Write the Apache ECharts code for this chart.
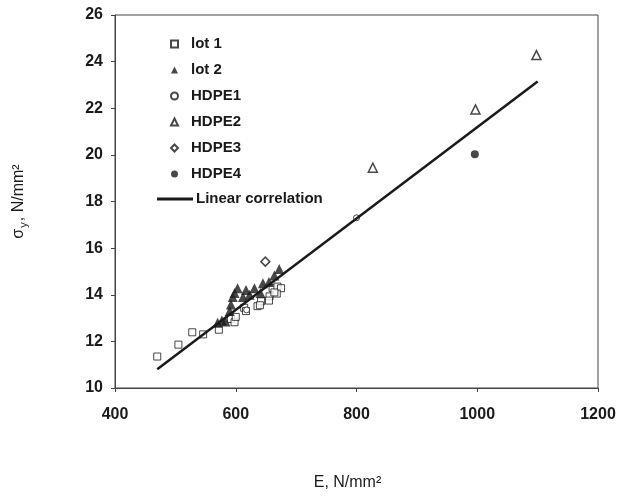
<!DOCTYPE html>
<html>
<head>
<meta charset="utf-8">
<script src="https://cdn.jsdelivr.net/npm/echarts@6/dist/echarts.min.js"></script>
<style>
  html, body { margin: 0; padding: 0; background: #fff; }
  #chart { width: 620px; height: 496px; }
</style>
</head>
<body>
<div id="chart"></div>
<script>
// Yield stress vs. elastic modulus for the two lots and four HDPE grades
const lot1E = [470, 505, 528, 546, 572, 592, 598, 600, 614, 617, 636, 642, 656, 661, 669, 675, 668, 640, 664, 655];
const lot1S = [11.35, 11.86, 12.39, 12.3, 12.5, 12.96, 12.82, 13.05, 13.44, 13.3, 13.51, 13.72, 13.93, 14.28, 14.35, 14.28, 14.05, 13.55, 14.1, 13.75];

const lot2E = [570, 577, 583, 590, 592, 595, 598, 603, 612, 617, 623, 631, 641, 645, 655, 664, 672];
const lot2S = [12.8, 12.9, 12.85, 13.3, 13.58, 13.9, 14.07, 14.28, 13.9, 14.2, 14.0, 14.28, 14.08, 14.49, 14.55, 14.83, 15.1];

const hdpe1E = [800, 618];
const hdpe1S = [17.3, 13.35];
const hdpe2E = [827, 997, 1098];
const hdpe2S = [19.45, 21.95, 24.28];
const hdpe3E = [649];
const hdpe3S = [15.42];
const hdpe4E = [996];
const hdpe4S = [20.03];

// Linear correlation line end points
const fitE = [470, 1100];
const fitS = [10.8, 23.15];

const xTicks = { min: 400, max: 1200, interval: 200 };
const yTicks = { min: 10, max: 26, interval: 2 };

const markerNames = ['lot 1', 'lot 2', 'HDPE1', 'HDPE2', 'HDPE3', 'HDPE4'];
const lineName = 'Linear correlation';

const zip = (xs, ys) => xs.map((x, i) => [x, ys[i]]);

const FONT = 'Liberation Sans, Arial, sans-serif';
const INK = '#1a1a1a';

const openStyle = { color: '#fff', borderColor: INK, borderWidth: 1 };
const solidStyle = { color: INK, borderColor: INK, borderWidth: 0 };
const legendText = { fontFamily: FONT, fontSize: 15, fontWeight: 'bold', color: INK, lineHeight: 16 };

const chart = echarts.init(document.getElementById('chart'), null, { renderer: 'canvas' });

chart.setOption({
  animation: false,
  backgroundColor: '#fff',
  grid: {
    left: 115, right: 22, top: 15, bottom: 98,
    show: true, borderColor: '#444', borderWidth: 1, backgroundColor: 'transparent'
  },
  legend: [
    {
      // marker entries
      orient: 'vertical',
      left: 165,
      top: 31,
      itemWidth: 7,
      itemHeight: 7,
      itemGap: 10,
      textStyle: Object.assign({}, legendText, { padding: [0, 0, 0, 8] }),
      data: markerNames
    },
    {
      // fitted line entry
      orient: 'vertical',
      left: 152,
      top: 186,
      itemWidth: 36,
      itemHeight: 3,
      textStyle: Object.assign({}, legendText, { padding: [0, 0, 0, -2] }),
      data: [{ name: lineName, icon: 'rect' }]
    }
  ],
  xAxis: {
    type: 'value',
    min: xTicks.min, max: xTicks.max, interval: xTicks.interval,
    name: 'E, N/mm²',
    nameLocation: 'middle',
    nameGap: 87,
    nameTextStyle: { fontFamily: FONT, fontSize: 16, color: INK, padding: [0, 18, 0, 0] },
    axisLine: { lineStyle: { color: '#444', width: 1 } },
    axisTick: { show: true, inside: false, length: 4, lineStyle: { color: '#444' } },
    axisLabel: { fontFamily: FONT, fontSize: 16, fontWeight: 'bold', color: INK, margin: 19, formatter: v => String(v) },
    splitLine: { show: false }
  },
  yAxis: {
    type: 'value',
    min: yTicks.min, max: yTicks.max, interval: yTicks.interval,
    name: '{a|σ}{s|y}{a|, N/mm²}',
    nameLocation: 'middle',
    nameGap: 86,
    nameTextStyle: {
      fontFamily: FONT, fontSize: 16, color: INK,
      rich: {
        a: { fontFamily: FONT, fontSize: 16, color: INK, lineHeight: 20, verticalAlign: 'middle' },
        s: { fontFamily: FONT, fontSize: 11, color: INK, lineHeight: 20, verticalAlign: 'bottom', padding: [0, 1, 0, 1] }
      }
    },
    axisLine: { show: true, lineStyle: { color: '#444', width: 1 } },
    axisTick: { show: true, inside: false, length: 4, lineStyle: { color: '#444' } },
    axisLabel: { fontFamily: FONT, fontSize: 16, fontWeight: 'bold', color: INK, margin: 12, formatter: v => String(v) },
    splitLine: { show: false }
  },
  series: [
    { name: 'lot 1', type: 'scatter', symbol: 'rect', symbolSize: 7, itemStyle: openStyle, data: zip(lot1E, lot1S), z: 3 },
    { name: 'lot 2', type: 'scatter', symbol: 'triangle', symbolSize: 10, itemStyle: solidStyle, data: zip(lot2E, lot2S), z: 4 },
    { name: 'HDPE1', type: 'scatter', symbol: 'circle', symbolSize: 6, itemStyle: openStyle, data: zip(hdpe1E, hdpe1S), z: 5 },
    { name: 'HDPE2', type: 'scatter', symbol: 'triangle', symbolSize: 9, itemStyle: { color: '#fff', borderColor: INK, borderWidth: 1.5 }, data: zip(hdpe2E, hdpe2S), z: 5 },
    { name: 'HDPE3', type: 'scatter', symbol: 'diamond', symbolSize: 9, itemStyle: { color: '#fff', borderColor: INK, borderWidth: 1.5 }, data: zip(hdpe3E, hdpe3S), z: 5 },
    { name: 'HDPE4', type: 'scatter', symbol: 'circle', symbolSize: 8, itemStyle: solidStyle, data: zip(hdpe4E, hdpe4S), z: 5 },
    {
      name: lineName, type: 'line', symbol: 'none', showSymbol: false,
      lineStyle: { color: INK, width: 2.5 }, itemStyle: { color: INK },
      data: zip(fitE, fitS), z: 6
    }
  ]
});
</script>
</body>
</html>
